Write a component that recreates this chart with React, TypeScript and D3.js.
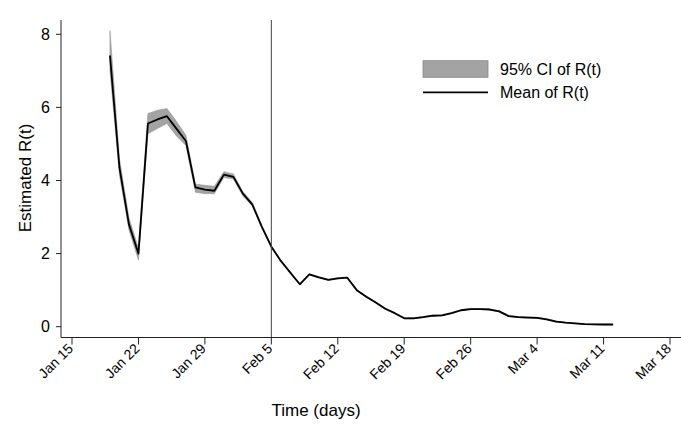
import React from "react";
import * as d3 from "d3";

const dates = [
  "2020-01-19","2020-01-20","2020-01-21","2020-01-22","2020-01-23","2020-01-24","2020-01-25","2020-01-26","2020-01-27","2020-01-28",
  "2020-01-29","2020-01-30","2020-01-31","2020-02-01","2020-02-02","2020-02-03","2020-02-04","2020-02-05","2020-02-06","2020-02-07",
  "2020-02-08","2020-02-09","2020-02-10","2020-02-11","2020-02-12","2020-02-13","2020-02-14","2020-02-15","2020-02-16","2020-02-17",
  "2020-02-18","2020-02-19","2020-02-20","2020-02-21","2020-02-22","2020-02-23","2020-02-24","2020-02-25","2020-02-26","2020-02-27",
  "2020-02-28","2020-02-29","2020-03-01","2020-03-02","2020-03-03","2020-03-04","2020-03-05","2020-03-06","2020-03-07","2020-03-08",
  "2020-03-09","2020-03-10","2020-03-11","2020-03-12"
];
const meanR = [
  7.42, 4.35, 2.8, 2.0, 5.56, 5.67, 5.76, 5.42, 5.08, 3.81,
  3.75, 3.72, 4.16, 4.10, 3.64, 3.34, 2.73, 2.19, 1.80, 1.48,
  1.16, 1.43, 1.35, 1.28, 1.32, 1.34, 1.0, 0.82, 0.66, 0.49,
  0.37, 0.23, 0.23, 0.26, 0.30, 0.31, 0.37, 0.45, 0.48, 0.48,
  0.47, 0.42, 0.29, 0.26, 0.25, 0.24, 0.20, 0.14, 0.11, 0.09,
  0.07, 0.065, 0.06, 0.06
];
const ciLow = [
  7.0, 4.15, 2.65, 1.82, 5.28, 5.42, 5.56, 5.22, 4.96, 3.68,
  3.64, 3.64, 4.08, 4.04, 3.58, 3.3, 2.7, 2.17, 1.79, 1.47,
  1.15, 1.42, 1.34, 1.27, 1.31, 1.33, 0.99, 0.81, 0.65, 0.48,
  0.36, 0.22, 0.22, 0.25, 0.29, 0.30, 0.36, 0.44, 0.47, 0.47,
  0.46, 0.41, 0.28, 0.25, 0.24, 0.23, 0.19, 0.13, 0.10, 0.08,
  0.06, 0.055, 0.05, 0.05
];
const ciHigh = [
  8.1, 4.6, 2.98, 2.15, 5.83, 5.92, 5.97, 5.62, 5.24, 3.9,
  3.87, 3.84, 4.24, 4.18, 3.7, 3.4, 2.77, 2.22, 1.82, 1.5,
  1.18, 1.45, 1.37, 1.3, 1.34, 1.36, 1.02, 0.84, 0.68, 0.51,
  0.39, 0.25, 0.25, 0.28, 0.32, 0.33, 0.39, 0.47, 0.5, 0.5,
  0.49, 0.44, 0.31, 0.28, 0.27, 0.26, 0.22, 0.16, 0.12, 0.1,
  0.08, 0.075, 0.07, 0.07
];
const yTicks = [0, 2, 4, 6, 8];
const xTickDates = ["2020-01-15","2020-01-22","2020-01-29","2020-02-05","2020-02-12","2020-02-19","2020-02-26","2020-03-04","2020-03-11","2020-03-18"];
const xTickLabels = ["Jan 15","Jan 22","Jan 29","Feb 5","Feb 12","Feb 19","Feb 26","Mar 4","Mar 11","Mar 18"];
const markerDate = "2020-02-05";
const legendLabels = ["95% CI of R(t)", "Mean of R(t)"];

const parse = (s: string) => new Date(s + "T00:00:00Z");

export default function App() {
  const W = 681, H = 428;
  const axisLeft = 61, axisRight = 681, axisY = 337.5, axisTop = 20;
  const x = d3.scaleUtc().domain([parse("2020-01-15"), parse("2020-03-18")]).range([72, 670]);
  const y = d3.scaleLinear().domain([0, 8]).range([326.7, 34.3]);
  const pts = dates.map((d, i) => ({ t: parse(d), m: meanR[i], lo: ciLow[i], hi: ciHigh[i] }));
  const area = d3.area<any>().x((p) => x(p.t)).y0((p) => y(p.lo)).y1((p) => y(p.hi));
  const line = d3.line<any>().x((p) => x(p.t)).y((p) => y(p.m));
  const font = "'Liberation Sans', Arial, sans-serif";
  const axisColor = "#222";
  return (
    <svg width={W} height={H} style={{ position: "absolute", left: 0, top: 0, background: "#fff" }} fontFamily={font}>
      <path d={area(pts) || ""} fill="#a3a3a3" stroke="#999" strokeWidth={0.6} />
      <path d={line(pts) || ""} fill="none" stroke="#000" strokeWidth={1.8} strokeLinejoin="round" />
      <line x1={x(parse(markerDate))} x2={x(parse(markerDate))} y1={axisTop} y2={axisY} stroke="#444" strokeWidth={1} />
      <line x1={axisLeft} x2={axisLeft} y1={axisTop} y2={axisY} stroke={axisColor} strokeWidth={1} />
      <line x1={axisLeft} x2={axisRight} y1={axisY} y2={axisY} stroke={axisColor} strokeWidth={1} />
      {yTicks.map((t) => (
        <g key={t}>
          <line x1={axisLeft - 5} x2={axisLeft} y1={y(t)} y2={y(t)} stroke={axisColor} />
          <text x={50} y={y(t)} dy="0.35em" textAnchor="end" fontSize={16} fill="#000">{t}</text>
        </g>
      ))}
      {xTickDates.map((d, i) => {
        const xx = x(parse(d));
        return (
          <g key={d}>
            <line x1={xx} x2={xx} y1={axisY} y2={axisY + 7} stroke={axisColor} />
            <text transform={`translate(${xx + 2},${axisY + 12}) rotate(-45)`} textAnchor="end" fontSize={14} fill="#000">{xTickLabels[i]}</text>
          </g>
        );
      })}
      <text transform="translate(31,178) rotate(-90)" textAnchor="middle" fontSize={17} fill="#000">Estimated R(t)</text>
      <text x={316} y={416} textAnchor="middle" fontSize={17} fill="#000">Time (days)</text>
      <rect x={423} y={60.7} width={65} height={16.6} fill="#a3a3a3" stroke="#888" strokeWidth={0.8} />
      <text x={500} y={69} dy="0.35em" fontSize={16} fill="#000">{legendLabels[0]}</text>
      <line x1={423} x2={488} y1={92.3} y2={92.3} stroke="#000" strokeWidth={1.8} />
      <text x={500} y={92.3} dy="0.35em" fontSize={16} fill="#000">{legendLabels[1]}</text>
    </svg>
  );
}
